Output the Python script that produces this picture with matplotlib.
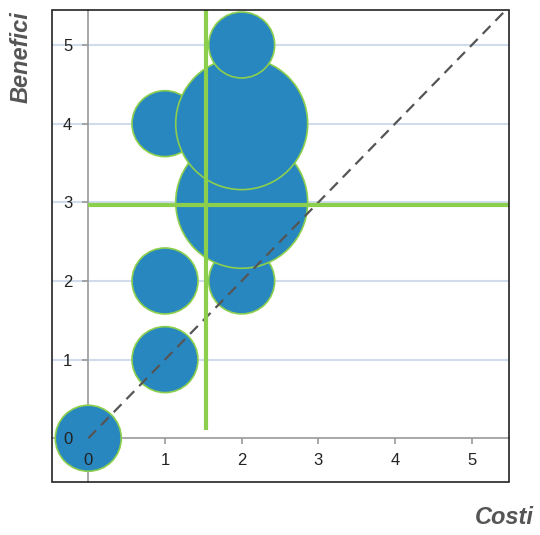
import matplotlib
matplotlib.use("Agg")
import matplotlib.pyplot as plt
from matplotlib.patches import Rectangle

# data: costi (x), benefici (y), relative bubble size
COSTI = [0, 1, 1, 1, 2, 2, 2, 2]
BENEFICI = [0, 1, 2, 4, 2, 3, 4, 5]
PESI = [1, 1, 1, 1, 1, 4, 4, 1]

MEDIA_COSTI = 1.53
MEDIA_BENEFICI = 2.97

TICKS = [0, 1, 2, 3, 4, 5]

BLUE = "#2987c0"
GREEN = "#8ccf4d"
GRID = "#d0dcec"
AXIS_GRAY = "#9a9a9a"

plt.rcParams["font.family"] = ["Liberation Sans", "DejaVu Sans"]

fig = plt.figure(figsize=(5.4, 5.35), dpi=100)
ax = fig.add_axes([52 / 540, 1 - 482 / 535, 457 / 540, 472 / 535])

ax.set_xlim(-0.473, 5.485)
ax.set_ylim(-0.556, 5.445)

# horizontal gridlines behind the bubbles
for t in TICKS[1:]:
    ax.axhline(t, color=GRID, lw=1.5, zorder=0)

ax.scatter(COSTI, BENEFICI, s=[p * 2256 for p in PESI], color=BLUE,
           edgecolors=GREEN, linewidths=1.2, zorder=2)

# diagonal costi = benefici
ax.plot([0, 6], [0, 6], color="#555555", lw=1.6, ls=(0, (5, 3.2)), zorder=3)

# mean lines
ax.plot([MEDIA_COSTI, MEDIA_COSTI], [0.1, 6], color=GREEN, lw=3, zorder=4,
        solid_capstyle="butt")
ax.plot([0, 6], [MEDIA_BENEFICI, MEDIA_BENEFICI], color=GREEN, lw=3, zorder=4,
        solid_capstyle="butt")

# axes crossing at zero, outer frame in black
for side in ["left", "bottom"]:
    ax.spines[side].set_position(("data", 0))
    ax.spines[side].set_color(AXIS_GRAY)
    ax.spines[side].set_linewidth(1.2)
    ax.spines[side].set_zorder(1)
for side in ["top", "right"]:
    ax.spines[side].set_visible(False)
ax.add_patch(Rectangle((0, 0), 1, 1, transform=ax.transAxes, fill=False,
                       edgecolor="#222222", lw=1.2, zorder=6, clip_on=False))

ax.set_xticks(TICKS)
ax.set_yticks(TICKS)
ax.set_xticklabels([str(t) for t in TICKS])
ax.set_yticklabels([str(t) for t in TICKS])
ax.tick_params(axis="both", direction="out", length=4.5, width=1.2,
               color=AXIS_GRAY, labelsize=12, labelcolor="#222222")
ax.tick_params(axis="x", pad=6)
ax.tick_params(axis="y", pad=7)
ax.xaxis.set_zorder(5)
ax.yaxis.set_zorder(5)
# the origin bubble hides the zero tick marks
ax.xaxis.get_major_ticks()[0].tick1line.set_visible(False)
ax.yaxis.get_major_ticks()[0].tick1line.set_visible(False)

fig.text(21 / 540, 1 - 57 / 535, "Benefici", rotation=90, ha="center",
         va="center", fontsize=17, fontweight="bold", fontstyle="italic",
         color="#555555")
fig.text(534 / 540, 1 - 524 / 535, "Costi", ha="right", va="baseline",
         fontsize=17, fontweight="bold", fontstyle="italic", color="#555555")

fig.savefig("out.png", dpi=100)
